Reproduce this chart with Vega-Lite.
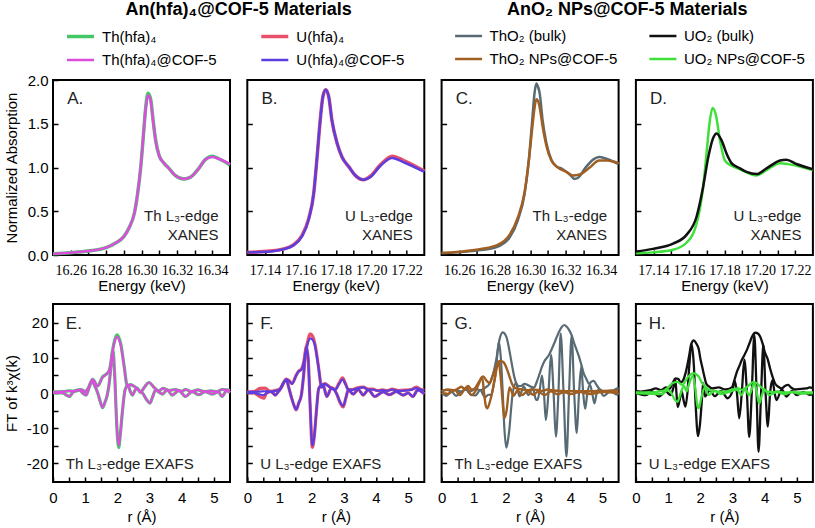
{
"$schema": "https://vega.github.io/schema/vega-lite/v6.json",
"padding": {"left": 3, "top": 0, "right": 0, "bottom": 0},
"config": {
  "view": {"stroke": "black", "strokeWidth": 2},
  "font": "Liberation Sans",
  "axis": {"domain": false, "grid": false, "tickSize": -5, "tickColor": "black", "tickWidth": 1.5, "labelColor": "black", "labelFontSize": 15, "labelFont": "Liberation Sans", "titleFont": "Liberation Sans", "titleFontSize": 15, "titleFontWeight": "normal", "titleColor": "black", "labelOverlap": false, "labelFlush": false},
  "axisX": {"labelPadding": 13, "titlePadding": 4},
  "axisY": {"labelPadding": 10, "titlePadding": 7, "minExtent": 0},
  "legend": {"labelFont": "Liberation Sans", "labelFontSize": 15, "labelColor": "black", "symbolType": "stroke", "symbolSize": 729, "symbolStrokeWidth": 2.5, "rowPadding": -2, "labelOffset": 6, "labelLimit": 300},
  "text": {"font": "Liberation Sans", "color": "#222"}
},
"resolve": {"scale": {"color": "independent", "strokeWidth": "independent"}, "legend": {"color": "independent", "strokeWidth": "independent"}},
"columns": 4,
"bounds": "flush",
"spacing": {"row": 49, "column": 17.3},
"concat": [
{
"title": {"text": "An(hfa)₄@COF-5 Materials", "fontSize": 18, "fontWeight": "bold", "font": "Liberation Sans", "color": "black", "anchor": "end", "align": "center", "frame": "group", "dx": 8.65, "offset": 2},
"width": 177, "height": 175,
"encoding": {
  "x": {"field": "x", "type": "quantitative", "scale": {"domain": [16.25, 16.35], "nice": false, "zero": false}, "axis": {"values": [16.26,16.27,16.28,16.29,16.30,16.31,16.32,16.33,16.34], "labelExpr": "round(datum.value*100)%2==0 ? format(datum.value,'.2f') : ''", "labelFont": "Liberation Sans Narrow", "labelFontSize": 14, "labelPadding": 13, "titlePadding": 1, "title": "Energy (keV)"}},
  "y": {"field": "y", "type": "quantitative", "scale": {"domain": [0, 2], "nice": false, "zero": false}, "axis": {"values": [0,0.5,1,1.5,2], "format": ".1f", "title": "Normalized Absorption", "minExtent": 27, "maxExtent": 27}}
},
"layer": [
{
"data": {"values": [
{"x":16.25,"y":0.015,"s":"Th(hfa)₄"},{"x":16.26,"y":0.027,"s":"Th(hfa)₄"},{"x":16.27,"y":0.046,"s":"Th(hfa)₄"},{"x":16.28,"y":0.084,"s":"Th(hfa)₄"},{"x":16.2856,"y":0.14,"s":"Th(hfa)₄"},{"x":16.29,"y":0.21,"s":"Th(hfa)₄"},{"x":16.2932,"y":0.32,"s":"Th(hfa)₄"},{"x":16.296,"y":0.48,"s":"Th(hfa)₄"},{"x":16.2978,"y":0.70,"s":"Th(hfa)₄"},{"x":16.2996,"y":1.01,"s":"Th(hfa)₄"},{"x":16.301,"y":1.35,"s":"Th(hfa)₄"},{"x":16.3024,"y":1.69,"s":"Th(hfa)₄"},{"x":16.3037,"y":1.85,"s":"Th(hfa)₄"},{"x":16.3052,"y":1.78,"s":"Th(hfa)₄"},{"x":16.3065,"y":1.55,"s":"Th(hfa)₄"},{"x":16.308,"y":1.31,"s":"Th(hfa)₄"},{"x":16.3099,"y":1.14,"s":"Th(hfa)₄"},{"x":16.3127,"y":1.05,"s":"Th(hfa)₄"},{"x":16.3155,"y":0.99,"s":"Th(hfa)₄"},{"x":16.319,"y":0.91,"s":"Th(hfa)₄"},{"x":16.324,"y":0.87,"s":"Th(hfa)₄"},{"x":16.3277,"y":0.89,"s":"Th(hfa)₄"},{"x":16.3324,"y":0.99,"s":"Th(hfa)₄"},{"x":16.336,"y":1.09,"s":"Th(hfa)₄"},{"x":16.34,"y":1.13,"s":"Th(hfa)₄"},{"x":16.3436,"y":1.10,"s":"Th(hfa)₄"},{"x":16.35,"y":1.03,"s":"Th(hfa)₄"},
{"x":16.25,"y":0.015,"s":"Th(hfa)₄@COF-5"},{"x":16.26,"y":0.027,"s":"Th(hfa)₄@COF-5"},{"x":16.27,"y":0.046,"s":"Th(hfa)₄@COF-5"},{"x":16.28,"y":0.084,"s":"Th(hfa)₄@COF-5"},{"x":16.2856,"y":0.14,"s":"Th(hfa)₄@COF-5"},{"x":16.29,"y":0.21,"s":"Th(hfa)₄@COF-5"},{"x":16.2932,"y":0.32,"s":"Th(hfa)₄@COF-5"},{"x":16.296,"y":0.48,"s":"Th(hfa)₄@COF-5"},{"x":16.2978,"y":0.70,"s":"Th(hfa)₄@COF-5"},{"x":16.2996,"y":1.01,"s":"Th(hfa)₄@COF-5"},{"x":16.301,"y":1.35,"s":"Th(hfa)₄@COF-5"},{"x":16.3024,"y":1.68,"s":"Th(hfa)₄@COF-5"},{"x":16.3037,"y":1.83,"s":"Th(hfa)₄@COF-5"},{"x":16.3052,"y":1.76,"s":"Th(hfa)₄@COF-5"},{"x":16.3065,"y":1.54,"s":"Th(hfa)₄@COF-5"},{"x":16.308,"y":1.31,"s":"Th(hfa)₄@COF-5"},{"x":16.3099,"y":1.14,"s":"Th(hfa)₄@COF-5"},{"x":16.3127,"y":1.05,"s":"Th(hfa)₄@COF-5"},{"x":16.3155,"y":0.99,"s":"Th(hfa)₄@COF-5"},{"x":16.319,"y":0.91,"s":"Th(hfa)₄@COF-5"},{"x":16.324,"y":0.87,"s":"Th(hfa)₄@COF-5"},{"x":16.3277,"y":0.89,"s":"Th(hfa)₄@COF-5"},{"x":16.3324,"y":0.99,"s":"Th(hfa)₄@COF-5"},{"x":16.336,"y":1.09,"s":"Th(hfa)₄@COF-5"},{"x":16.34,"y":1.12,"s":"Th(hfa)₄@COF-5"},{"x":16.3436,"y":1.10,"s":"Th(hfa)₄@COF-5"},{"x":16.35,"y":1.04,"s":"Th(hfa)₄@COF-5"}
]},
"mark": {"type": "line", "interpolate": "monotone"},
"encoding": {
  "color": {"field": "s", "type": "nominal", "scale": {"domain": ["Th(hfa)₄", "Th(hfa)₄@COF-5"], "range": ["#44c766", "#dd4ddd"]}, "legend": {"orient": "none", "legendX": 12, "legendY": -59, "direction": "vertical", "title": null}},
  "strokeWidth": {"field": "s", "type": "nominal", "scale": {"domain": ["Th(hfa)₄", "Th(hfa)₄@COF-5"], "range": [3.5, 2.5]}, "legend": null}
}
},
{"data": {"values": [{"x":16.258,"y":1.78,"t":"A."}]}, "mark": {"type": "text", "align": "left", "baseline": "middle", "fontSize": 17}, "encoding": {"text": {"field": "t"}}},
{"data": {"values": [{"x":16.3435,"y":0.45,"t":"Th L₃-edge"},{"x":16.3435,"y":0.23,"t":"XANES"}]}, "mark": {"type": "text", "align": "right", "baseline": "middle", "fontSize": 15}, "encoding": {"text": {"field": "t"}}}
]
},
{
"width": 177, "height": 175,
"encoding": {
  "x": {"field": "x", "type": "quantitative", "scale": {"domain": [17.13, 17.23], "nice": false, "zero": false}, "axis": {"values": [17.14,17.15,17.16,17.17,17.18,17.19,17.20,17.21,17.22], "labelExpr": "round(datum.value*100)%2==0 ? format(datum.value,'.2f') : ''", "labelFont": "Liberation Sans Narrow", "labelFontSize": 14, "labelPadding": 13, "titlePadding": 1, "title": "Energy (keV)"}},
  "y": {"field": "y", "type": "quantitative", "scale": {"domain": [0, 2], "nice": false, "zero": false}, "axis": {"values": [0.5,1,1.5], "labels": false, "title": null}}
},
"layer": [
{
"data": {"values": [
{"x":17.13,"y":0.03,"s":"U(hfa)₄"},{"x":17.143,"y":0.045,"s":"U(hfa)₄"},{"x":17.1505,"y":0.07,"s":"U(hfa)₄"},{"x":17.156,"y":0.115,"s":"U(hfa)₄"},{"x":17.1608,"y":0.22,"s":"U(hfa)₄"},{"x":17.1646,"y":0.41,"s":"U(hfa)₄"},{"x":17.1675,"y":0.70,"s":"U(hfa)₄"},{"x":17.1693,"y":1.09,"s":"U(hfa)₄"},{"x":17.1712,"y":1.54,"s":"U(hfa)₄"},{"x":17.1727,"y":1.81,"s":"U(hfa)₄"},{"x":17.1743,"y":1.89,"s":"U(hfa)₄"},{"x":17.176,"y":1.81,"s":"U(hfa)₄"},{"x":17.1778,"y":1.54,"s":"U(hfa)₄"},{"x":17.1807,"y":1.28,"s":"U(hfa)₄"},{"x":17.1835,"y":1.12,"s":"U(hfa)₄"},{"x":17.1873,"y":1.01,"s":"U(hfa)₄"},{"x":17.191,"y":0.91,"s":"U(hfa)₄"},{"x":17.1957,"y":0.86,"s":"U(hfa)₄"},{"x":17.1995,"y":0.90,"s":"U(hfa)₄"},{"x":17.2052,"y":1.03,"s":"U(hfa)₄"},{"x":17.2118,"y":1.13,"s":"U(hfa)₄"},{"x":17.2184,"y":1.08,"s":"U(hfa)₄"},{"x":17.23,"y":0.96,"s":"U(hfa)₄"},
{"x":17.13,"y":0.03,"s":"U(hfa)₄@COF-5"},{"x":17.143,"y":0.04,"s":"U(hfa)₄@COF-5"},{"x":17.1505,"y":0.065,"s":"U(hfa)₄@COF-5"},{"x":17.156,"y":0.11,"s":"U(hfa)₄@COF-5"},{"x":17.1608,"y":0.21,"s":"U(hfa)₄@COF-5"},{"x":17.1646,"y":0.40,"s":"U(hfa)₄@COF-5"},{"x":17.1675,"y":0.70,"s":"U(hfa)₄@COF-5"},{"x":17.1693,"y":1.09,"s":"U(hfa)₄@COF-5"},{"x":17.1712,"y":1.54,"s":"U(hfa)₄@COF-5"},{"x":17.1727,"y":1.81,"s":"U(hfa)₄@COF-5"},{"x":17.1743,"y":1.89,"s":"U(hfa)₄@COF-5"},{"x":17.176,"y":1.81,"s":"U(hfa)₄@COF-5"},{"x":17.1778,"y":1.54,"s":"U(hfa)₄@COF-5"},{"x":17.1807,"y":1.28,"s":"U(hfa)₄@COF-5"},{"x":17.1835,"y":1.12,"s":"U(hfa)₄@COF-5"},{"x":17.1873,"y":1.01,"s":"U(hfa)₄@COF-5"},{"x":17.191,"y":0.91,"s":"U(hfa)₄@COF-5"},{"x":17.1957,"y":0.86,"s":"U(hfa)₄@COF-5"},{"x":17.1995,"y":0.89,"s":"U(hfa)₄@COF-5"},{"x":17.2052,"y":1.02,"s":"U(hfa)₄@COF-5"},{"x":17.2118,"y":1.11,"s":"U(hfa)₄@COF-5"},{"x":17.2184,"y":1.06,"s":"U(hfa)₄@COF-5"},{"x":17.23,"y":0.95,"s":"U(hfa)₄@COF-5"}
]},
"mark": {"type": "line", "interpolate": "monotone"},
"encoding": {
  "color": {"field": "s", "type": "nominal", "scale": {"domain": ["U(hfa)₄", "U(hfa)₄@COF-5"], "range": ["#e8506a", "#5b3de0"]}, "legend": {"orient": "none", "legendX": 12, "legendY": -59, "direction": "vertical", "title": null}},
  "strokeWidth": {"field": "s", "type": "nominal", "scale": {"domain": ["U(hfa)₄", "U(hfa)₄@COF-5"], "range": [3.5, 2.5]}, "legend": null}
}
},
{"data": {"values": [{"x":17.138,"y":1.78,"t":"B."}]}, "mark": {"type": "text", "align": "left", "baseline": "middle", "fontSize": 17}, "encoding": {"text": {"field": "t"}}},
{"data": {"values": [{"x":17.2235,"y":0.45,"t":"U L₃-edge"},{"x":17.2235,"y":0.23,"t":"XANES"}]}, "mark": {"type": "text", "align": "right", "baseline": "middle", "fontSize": 15}, "encoding": {"text": {"field": "t"}}}
]
},
{
"title": {"text": "AnO₂ NPs@COF-5 Materials", "fontSize": 18, "fontWeight": "bold", "font": "Liberation Sans", "color": "black", "anchor": "end", "align": "center", "frame": "group", "dx": 8.65, "offset": 2},
"width": 177, "height": 175,
"encoding": {
  "x": {"field": "x", "type": "quantitative", "scale": {"domain": [16.25, 16.35], "nice": false, "zero": false}, "axis": {"values": [16.26,16.27,16.28,16.29,16.30,16.31,16.32,16.33,16.34], "labelExpr": "round(datum.value*100)%2==0 ? format(datum.value,'.2f') : ''", "labelFont": "Liberation Sans Narrow", "labelFontSize": 14, "labelPadding": 13, "titlePadding": 1, "title": "Energy (keV)"}},
  "y": {"field": "y", "type": "quantitative", "scale": {"domain": [0, 2], "nice": false, "zero": false}, "axis": {"values": [0.5,1,1.5], "labels": false, "title": null}}
},
"layer": [
{
"data": {"values": [
{"x":16.25,"y":0.02,"s":"ThO₂ (bulk)"},{"x":16.2583,"y":0.03,"s":"ThO₂ (bulk)"},{"x":16.2696,"y":0.05,"s":"ThO₂ (bulk)"},{"x":16.281,"y":0.09,"s":"ThO₂ (bulk)"},{"x":16.2884,"y":0.20,"s":"ThO₂ (bulk)"},{"x":16.2931,"y":0.40,"s":"ThO₂ (bulk)"},{"x":16.2969,"y":0.70,"s":"ThO₂ (bulk)"},{"x":16.2993,"y":1.09,"s":"ThO₂ (bulk)"},{"x":16.3012,"y":1.54,"s":"ThO₂ (bulk)"},{"x":16.3025,"y":1.85,"s":"ThO₂ (bulk)"},{"x":16.3035,"y":1.96,"s":"ThO₂ (bulk)"},{"x":16.3045,"y":1.92,"s":"ThO₂ (bulk)"},{"x":16.3054,"y":1.85,"s":"ThO₂ (bulk)"},{"x":16.307,"y":1.55,"s":"ThO₂ (bulk)"},{"x":16.3092,"y":1.28,"s":"ThO₂ (bulk)"},{"x":16.312,"y":1.09,"s":"ThO₂ (bulk)"},{"x":16.315,"y":1.01,"s":"ThO₂ (bulk)"},{"x":16.3176,"y":0.99,"s":"ThO₂ (bulk)"},{"x":16.3205,"y":0.95,"s":"ThO₂ (bulk)"},{"x":16.3234,"y":0.90,"s":"ThO₂ (bulk)"},{"x":16.325,"y":0.87,"s":"ThO₂ (bulk)"},{"x":16.327,"y":0.88,"s":"ThO₂ (bulk)"},{"x":16.331,"y":0.99,"s":"ThO₂ (bulk)"},{"x":16.3356,"y":1.09,"s":"ThO₂ (bulk)"},{"x":16.339,"y":1.12,"s":"ThO₂ (bulk)"},{"x":16.343,"y":1.10,"s":"ThO₂ (bulk)"},{"x":16.35,"y":1.04,"s":"ThO₂ (bulk)"},
{"x":16.25,"y":0.025,"s":"ThO₂ NPs@COF-5"},{"x":16.2583,"y":0.035,"s":"ThO₂ NPs@COF-5"},{"x":16.2696,"y":0.06,"s":"ThO₂ NPs@COF-5"},{"x":16.281,"y":0.11,"s":"ThO₂ NPs@COF-5"},{"x":16.2884,"y":0.23,"s":"ThO₂ NPs@COF-5"},{"x":16.2931,"y":0.43,"s":"ThO₂ NPs@COF-5"},{"x":16.2969,"y":0.72,"s":"ThO₂ NPs@COF-5"},{"x":16.2993,"y":1.08,"s":"ThO₂ NPs@COF-5"},{"x":16.3012,"y":1.45,"s":"ThO₂ NPs@COF-5"},{"x":16.3025,"y":1.68,"s":"ThO₂ NPs@COF-5"},{"x":16.3035,"y":1.78,"s":"ThO₂ NPs@COF-5"},{"x":16.3045,"y":1.76,"s":"ThO₂ NPs@COF-5"},{"x":16.3054,"y":1.69,"s":"ThO₂ NPs@COF-5"},{"x":16.307,"y":1.48,"s":"ThO₂ NPs@COF-5"},{"x":16.3092,"y":1.25,"s":"ThO₂ NPs@COF-5"},{"x":16.312,"y":1.08,"s":"ThO₂ NPs@COF-5"},{"x":16.315,"y":1.01,"s":"ThO₂ NPs@COF-5"},{"x":16.3205,"y":0.95,"s":"ThO₂ NPs@COF-5"},{"x":16.324,"y":0.91,"s":"ThO₂ NPs@COF-5"},{"x":16.328,"y":0.92,"s":"ThO₂ NPs@COF-5"},{"x":16.3337,"y":1.0,"s":"ThO₂ NPs@COF-5"},{"x":16.339,"y":1.08,"s":"ThO₂ NPs@COF-5"},{"x":16.3436,"y":1.08,"s":"ThO₂ NPs@COF-5"},{"x":16.35,"y":1.05,"s":"ThO₂ NPs@COF-5"}
]},
"mark": {"type": "line", "interpolate": "monotone"},
"encoding": {
  "color": {"field": "s", "type": "nominal", "scale": {"domain": ["ThO₂ (bulk)", "ThO₂ NPs@COF-5"], "range": ["#586a74", "#a05f22"]}, "legend": {"orient": "none", "legendX": 12, "legendY": -59, "direction": "vertical", "title": null}},
  "strokeWidth": {"field": "s", "type": "nominal", "scale": {"domain": ["ThO₂ (bulk)", "ThO₂ NPs@COF-5"], "range": [2.5, 2.5]}, "legend": null}
}
},
{"data": {"values": [{"x":16.258,"y":1.78,"t":"C."}]}, "mark": {"type": "text", "align": "left", "baseline": "middle", "fontSize": 17}, "encoding": {"text": {"field": "t"}}},
{"data": {"values": [{"x":16.3435,"y":0.45,"t":"Th L₃-edge"},{"x":16.3435,"y":0.23,"t":"XANES"}]}, "mark": {"type": "text", "align": "right", "baseline": "middle", "fontSize": 15}, "encoding": {"text": {"field": "t"}}}
]
},
{
"width": 177, "height": 175,
"encoding": {
  "x": {"field": "x", "type": "quantitative", "scale": {"domain": [17.13, 17.23], "nice": false, "zero": false}, "axis": {"values": [17.14,17.15,17.16,17.17,17.18,17.19,17.20,17.21,17.22], "labelExpr": "round(datum.value*100)%2==0 ? format(datum.value,'.2f') : ''", "labelFont": "Liberation Sans Narrow", "labelFontSize": 14, "labelPadding": 13, "titlePadding": 1, "title": "Energy (keV)"}},
  "y": {"field": "y", "type": "quantitative", "scale": {"domain": [0, 2], "nice": false, "zero": false}, "axis": {"values": [0.5,1,1.5], "labels": false, "title": null}}
},
"layer": [
{
"data": {"values": [
{"x":17.13,"y":0.02,"s":"UO₂ NPs@COF-5"},{"x":17.1397,"y":0.03,"s":"UO₂ NPs@COF-5"},{"x":17.151,"y":0.06,"s":"UO₂ NPs@COF-5"},{"x":17.1586,"y":0.14,"s":"UO₂ NPs@COF-5"},{"x":17.1643,"y":0.36,"s":"UO₂ NPs@COF-5"},{"x":17.168,"y":0.78,"s":"UO₂ NPs@COF-5"},{"x":17.1699,"y":1.16,"s":"UO₂ NPs@COF-5"},{"x":17.1718,"y":1.54,"s":"UO₂ NPs@COF-5"},{"x":17.1733,"y":1.68,"s":"UO₂ NPs@COF-5"},{"x":17.1752,"y":1.60,"s":"UO₂ NPs@COF-5"},{"x":17.1775,"y":1.31,"s":"UO₂ NPs@COF-5"},{"x":17.1803,"y":1.08,"s":"UO₂ NPs@COF-5"},{"x":17.184,"y":1.02,"s":"UO₂ NPs@COF-5"},{"x":17.1888,"y":0.98,"s":"UO₂ NPs@COF-5"},{"x":17.1982,"y":0.91,"s":"UO₂ NPs@COF-5"},{"x":17.2038,"y":0.97,"s":"UO₂ NPs@COF-5"},{"x":17.2114,"y":1.05,"s":"UO₂ NPs@COF-5"},{"x":17.2207,"y":1.02,"s":"UO₂ NPs@COF-5"},{"x":17.23,"y":0.97,"s":"UO₂ NPs@COF-5"},
{"x":17.13,"y":0.04,"s":"UO₂ (bulk)"},{"x":17.1397,"y":0.07,"s":"UO₂ (bulk)"},{"x":17.151,"y":0.13,"s":"UO₂ (bulk)"},{"x":17.1586,"y":0.23,"s":"UO₂ (bulk)"},{"x":17.1643,"y":0.44,"s":"UO₂ (bulk)"},{"x":17.168,"y":0.78,"s":"UO₂ (bulk)"},{"x":17.1709,"y":1.12,"s":"UO₂ (bulk)"},{"x":17.1737,"y":1.34,"s":"UO₂ (bulk)"},{"x":17.1756,"y":1.39,"s":"UO₂ (bulk)"},{"x":17.1784,"y":1.31,"s":"UO₂ (bulk)"},{"x":17.1812,"y":1.16,"s":"UO₂ (bulk)"},{"x":17.184,"y":1.05,"s":"UO₂ (bulk)"},{"x":17.1888,"y":0.99,"s":"UO₂ (bulk)"},{"x":17.1925,"y":0.95,"s":"UO₂ (bulk)"},{"x":17.1982,"y":0.925,"s":"UO₂ (bulk)"},{"x":17.2038,"y":0.99,"s":"UO₂ (bulk)"},{"x":17.2114,"y":1.08,"s":"UO₂ (bulk)"},{"x":17.215,"y":1.09,"s":"UO₂ (bulk)"},{"x":17.2207,"y":1.04,"s":"UO₂ (bulk)"},{"x":17.23,"y":0.98,"s":"UO₂ (bulk)"}
]},
"mark": {"type": "line", "interpolate": "monotone"},
"encoding": {
  "color": {"field": "s", "type": "nominal", "scale": {"domain": ["UO₂ (bulk)", "UO₂ NPs@COF-5"], "range": ["#111111", "#3fe03a"]}, "legend": {"orient": "none", "legendX": 12, "legendY": -59, "direction": "vertical", "title": null}},
  "strokeWidth": {"field": "s", "type": "nominal", "scale": {"domain": ["UO₂ (bulk)", "UO₂ NPs@COF-5"], "range": [2.5, 2.5]}, "legend": null}
}
},
{"data": {"values": [{"x":17.138,"y":1.78,"t":"D."}]}, "mark": {"type": "text", "align": "left", "baseline": "middle", "fontSize": 17}, "encoding": {"text": {"field": "t"}}},
{"data": {"values": [{"x":17.2235,"y":0.45,"t":"U L₃-edge"},{"x":17.2235,"y":0.23,"t":"XANES"}]}, "mark": {"type": "text", "align": "right", "baseline": "middle", "fontSize": 15}, "encoding": {"text": {"field": "t"}}}
]
},
{
"width": 177, "height": 178,
"encoding": {
  "x": {"field": "x", "type": "quantitative", "scale": {"domain": [0, 5.5], "nice": false, "zero": false}, "axis": {"values": [0,0.5,1,1.5,2,2.5,3,3.5,4,4.5,5], "labelExpr": "datum.value%1==0 ? ''+datum.value : ''", "title": "r (Å)"}},
  "y": {"field": "y", "type": "quantitative", "scale": {"domain": [-25.4, 25.4], "nice": false, "zero": false}, "axis": {"values": [-20,-15,-10,-5,0,5,10,15,20], "labelExpr": "datum.value%10==0 ? ''+datum.value : ''", "title": "FT of k³χ(k)", "minExtent": 27, "maxExtent": 27}}
},
"layer": [
{
"data": {"values": [
{"x":0,"y":0.3,"s":"a","p":"m"},{"x":0.3,"y":0.4,"s":"a","p":"m"},{"x":0.5,"y":0.6,"s":"a","p":"m"},{"x":0.7,"y":0.5,"s":"a","p":"m"},{"x":0.87,"y":1.0,"s":"a","p":"m"},{"x":1.0,"y":0.4,"s":"a","p":"m"},{"x":1.1,"y":1.5,"s":"a","p":"m"},{"x":1.23,"y":3.9,"s":"a","p":"m"},{"x":1.39,"y":2.0,"s":"a","p":"m"},{"x":1.54,"y":4.6,"s":"a","p":"m"},{"x":1.65,"y":5.3,"s":"a","p":"m"},{"x":1.75,"y":6.5,"s":"a","p":"m"},{"x":1.80,"y":8.8,"s":"a","p":"m"},{"x":1.86,"y":12.6,"s":"a","p":"m"},{"x":1.92,"y":15.2,"s":"a","p":"m"},{"x":1.99,"y":16.6,"s":"a","p":"m"},{"x":2.06,"y":15.5,"s":"a","p":"m"},{"x":2.11,"y":13.8,"s":"a","p":"m"},{"x":2.21,"y":7.7,"s":"a","p":"m"},{"x":2.31,"y":2.0,"s":"a","p":"m"},{"x":2.40,"y":2.4,"s":"a","p":"m"},{"x":2.57,"y":1.6,"s":"a","p":"m"},{"x":2.73,"y":0.4,"s":"a","p":"m"},{"x":2.85,"y":1.8,"s":"a","p":"m"},{"x":2.98,"y":3.0,"s":"a","p":"m"},{"x":3.14,"y":1.6,"s":"a","p":"m"},{"x":3.28,"y":0.6,"s":"a","p":"m"},{"x":3.42,"y":1.3,"s":"a","p":"m"},{"x":3.6,"y":0.7,"s":"a","p":"m"},{"x":3.8,"y":1.0,"s":"a","p":"m"},{"x":4.0,"y":0.5,"s":"a","p":"m"},{"x":4.12,"y":1.0,"s":"a","p":"m"},{"x":4.3,"y":0.4,"s":"a","p":"m"},{"x":4.5,"y":0.9,"s":"a","p":"m"},{"x":4.7,"y":0.4,"s":"a","p":"m"},{"x":4.9,"y":0.6,"s":"a","p":"m"},{"x":5.1,"y":0.4,"s":"a","p":"m"},{"x":5.25,"y":1.0,"s":"a","p":"m"},{"x":5.4,"y":0.9,"s":"a","p":"m"},{"x":5.5,"y":0.7,"s":"a","p":"m"},
{"x":0,"y":0,"s":"a","p":"r"},{"x":0.3,"y":0,"s":"a","p":"r"},{"x":0.42,"y":-0.6,"s":"a","p":"r"},{"x":0.51,"y":-1.0,"s":"a","p":"r"},{"x":0.6,"y":0,"s":"a","p":"r"},{"x":0.67,"y":0.6,"s":"a","p":"r"},{"x":0.82,"y":0.9,"s":"a","p":"r"},{"x":0.92,"y":0,"s":"a","p":"r"},{"x":1.03,"y":-0.6,"s":"a","p":"r"},{"x":1.12,"y":1.5,"s":"a","p":"r"},{"x":1.21,"y":3.4,"s":"a","p":"r"},{"x":1.3,"y":2.0,"s":"a","p":"r"},{"x":1.39,"y":0,"s":"a","p":"r"},{"x":1.47,"y":-2.5,"s":"a","p":"r"},{"x":1.54,"y":-4.2,"s":"a","p":"r"},{"x":1.62,"y":-2.5,"s":"a","p":"r"},{"x":1.68,"y":-0.8,"s":"a","p":"r"},{"x":1.75,"y":3.0,"s":"a","p":"r"},{"x":1.80,"y":7.6,"s":"a","p":"r"},{"x":1.86,"y":12.3,"s":"a","p":"r"},{"x":1.92,"y":4.5,"s":"a","p":"r"},{"x":1.98,"y":-9,"s":"a","p":"r"},{"x":2.04,"y":-15.6,"s":"a","p":"r"},{"x":2.10,"y":-11,"s":"a","p":"r"},{"x":2.16,"y":-5,"s":"a","p":"r"},{"x":2.24,"y":0.9,"s":"a","p":"r"},{"x":2.33,"y":2.2,"s":"a","p":"r"},{"x":2.40,"y":0.5,"s":"a","p":"r"},{"x":2.47,"y":-0.6,"s":"a","p":"r"},{"x":2.55,"y":0.8,"s":"a","p":"r"},{"x":2.62,"y":1.3,"s":"a","p":"r"},{"x":2.70,"y":0.3,"s":"a","p":"r"},{"x":2.78,"y":0,"s":"a","p":"r"},{"x":2.9,"y":-1.8,"s":"a","p":"r"},{"x":3.01,"y":-2.9,"s":"a","p":"r"},{"x":3.1,"y":-1,"s":"a","p":"r"},{"x":3.19,"y":0.9,"s":"a","p":"r"},{"x":3.30,"y":0.2,"s":"a","p":"r"},{"x":3.40,"y":-0.3,"s":"a","p":"r"},{"x":3.55,"y":0.9,"s":"a","p":"r"},{"x":3.70,"y":-0.6,"s":"a","p":"r"},{"x":3.91,"y":0.7,"s":"a","p":"r"},{"x":4.12,"y":-1.0,"s":"a","p":"r"},{"x":4.32,"y":0.4,"s":"a","p":"r"},{"x":4.53,"y":-0.5,"s":"a","p":"r"},{"x":4.73,"y":0.4,"s":"a","p":"r"},{"x":4.94,"y":-0.3,"s":"a","p":"r"},{"x":5.14,"y":0.3,"s":"a","p":"r"},{"x":5.25,"y":-1.0,"s":"a","p":"r"},{"x":5.40,"y":0.7,"s":"a","p":"r"},{"x":5.5,"y":0.1,"s":"a","p":"r"},
{"x":0,"y":0.3,"s":"b","p":"m"},{"x":0.3,"y":0.4,"s":"b","p":"m"},{"x":0.5,"y":0.6,"s":"b","p":"m"},{"x":0.7,"y":0.5,"s":"b","p":"m"},{"x":0.87,"y":1.0,"s":"b","p":"m"},{"x":1.0,"y":0.4,"s":"b","p":"m"},{"x":1.1,"y":1.5,"s":"b","p":"m"},{"x":1.23,"y":3.9,"s":"b","p":"m"},{"x":1.39,"y":2.0,"s":"b","p":"m"},{"x":1.54,"y":4.5,"s":"b","p":"m"},{"x":1.65,"y":5.3,"s":"b","p":"m"},{"x":1.75,"y":6.5,"s":"b","p":"m"},{"x":1.80,"y":8.8,"s":"b","p":"m"},{"x":1.86,"y":12.4,"s":"b","p":"m"},{"x":1.92,"y":14.8,"s":"b","p":"m"},{"x":1.99,"y":16.0,"s":"b","p":"m"},{"x":2.06,"y":15.0,"s":"b","p":"m"},{"x":2.11,"y":13.5,"s":"b","p":"m"},{"x":2.21,"y":7.5,"s":"b","p":"m"},{"x":2.31,"y":2.0,"s":"b","p":"m"},{"x":2.40,"y":2.4,"s":"b","p":"m"},{"x":2.57,"y":1.6,"s":"b","p":"m"},{"x":2.73,"y":0.4,"s":"b","p":"m"},{"x":2.85,"y":1.8,"s":"b","p":"m"},{"x":2.98,"y":3.0,"s":"b","p":"m"},{"x":3.14,"y":1.6,"s":"b","p":"m"},{"x":3.28,"y":0.6,"s":"b","p":"m"},{"x":3.42,"y":1.3,"s":"b","p":"m"},{"x":3.6,"y":0.7,"s":"b","p":"m"},{"x":3.8,"y":1.0,"s":"b","p":"m"},{"x":4.0,"y":0.5,"s":"b","p":"m"},{"x":4.12,"y":1.0,"s":"b","p":"m"},{"x":4.3,"y":0.4,"s":"b","p":"m"},{"x":4.5,"y":0.9,"s":"b","p":"m"},{"x":4.7,"y":0.4,"s":"b","p":"m"},{"x":4.9,"y":0.6,"s":"b","p":"m"},{"x":5.1,"y":0.4,"s":"b","p":"m"},{"x":5.25,"y":1.0,"s":"b","p":"m"},{"x":5.4,"y":0.9,"s":"b","p":"m"},{"x":5.5,"y":0.7,"s":"b","p":"m"},
{"x":0,"y":0,"s":"b","p":"r"},{"x":0.3,"y":0,"s":"b","p":"r"},{"x":0.42,"y":-0.6,"s":"b","p":"r"},{"x":0.51,"y":-1.0,"s":"b","p":"r"},{"x":0.6,"y":0,"s":"b","p":"r"},{"x":0.67,"y":0.6,"s":"b","p":"r"},{"x":0.82,"y":0.9,"s":"b","p":"r"},{"x":0.92,"y":0,"s":"b","p":"r"},{"x":1.03,"y":-0.6,"s":"b","p":"r"},{"x":1.12,"y":1.5,"s":"b","p":"r"},{"x":1.21,"y":3.4,"s":"b","p":"r"},{"x":1.3,"y":2.0,"s":"b","p":"r"},{"x":1.39,"y":0,"s":"b","p":"r"},{"x":1.47,"y":-2.5,"s":"b","p":"r"},{"x":1.54,"y":-4.1,"s":"b","p":"r"},{"x":1.62,"y":-2.5,"s":"b","p":"r"},{"x":1.68,"y":-0.8,"s":"b","p":"r"},{"x":1.75,"y":3.0,"s":"b","p":"r"},{"x":1.80,"y":7.5,"s":"b","p":"r"},{"x":1.86,"y":12.0,"s":"b","p":"r"},{"x":1.92,"y":4.5,"s":"b","p":"r"},{"x":1.98,"y":-9,"s":"b","p":"r"},{"x":2.04,"y":-15.0,"s":"b","p":"r"},{"x":2.10,"y":-11,"s":"b","p":"r"},{"x":2.16,"y":-5,"s":"b","p":"r"},{"x":2.24,"y":0.9,"s":"b","p":"r"},{"x":2.33,"y":2.2,"s":"b","p":"r"},{"x":2.40,"y":0.5,"s":"b","p":"r"},{"x":2.47,"y":-0.6,"s":"b","p":"r"},{"x":2.55,"y":0.8,"s":"b","p":"r"},{"x":2.62,"y":1.3,"s":"b","p":"r"},{"x":2.70,"y":0.3,"s":"b","p":"r"},{"x":2.78,"y":0,"s":"b","p":"r"},{"x":2.9,"y":-1.8,"s":"b","p":"r"},{"x":3.01,"y":-2.9,"s":"b","p":"r"},{"x":3.1,"y":-1,"s":"b","p":"r"},{"x":3.19,"y":0.9,"s":"b","p":"r"},{"x":3.30,"y":0.2,"s":"b","p":"r"},{"x":3.40,"y":-0.3,"s":"b","p":"r"},{"x":3.55,"y":0.9,"s":"b","p":"r"},{"x":3.70,"y":-0.6,"s":"b","p":"r"},{"x":3.91,"y":0.7,"s":"b","p":"r"},{"x":4.12,"y":-1.0,"s":"b","p":"r"},{"x":4.32,"y":0.4,"s":"b","p":"r"},{"x":4.53,"y":-0.5,"s":"b","p":"r"},{"x":4.73,"y":0.4,"s":"b","p":"r"},{"x":4.94,"y":-0.3,"s":"b","p":"r"},{"x":5.14,"y":0.3,"s":"b","p":"r"},{"x":5.25,"y":-1.0,"s":"b","p":"r"},{"x":5.40,"y":0.7,"s":"b","p":"r"},{"x":5.5,"y":0.1,"s":"b","p":"r"}
]},
"mark": {"type": "line", "interpolate": "monotone"},
"encoding": {
  "color": {"field": "s", "type": "nominal", "scale": {"domain": ["a", "b"], "range": ["#44c766", "#dd4ddd"]}, "legend": null},
  "strokeWidth": {"field": "s", "type": "nominal", "scale": {"domain": ["a", "b"], "range": [3.2, 2.2]}, "legend": null},
  "detail": {"field": "p"}
}
},
{"data": {"values": [{"x":0.40,"y":19.7,"t":"E."}]}, "mark": {"type": "text", "align": "left", "baseline": "middle", "fontSize": 17}, "encoding": {"text": {"field": "t"}}},
{"data": {"values": [{"x":0.40,"y":-20.2,"t":"Th L₃-edge EXAFS"}]}, "mark": {"type": "text", "align": "left", "baseline": "middle", "fontSize": 15}, "encoding": {"text": {"field": "t"}}}
]
},
{
"width": 177, "height": 178,
"encoding": {
  "x": {"field": "x", "type": "quantitative", "scale": {"domain": [0, 5.5], "nice": false, "zero": false}, "axis": {"values": [0,0.5,1,1.5,2,2.5,3,3.5,4,4.5,5], "labelExpr": "datum.value%1==0 ? ''+datum.value : ''", "title": "r (Å)"}},
  "y": {"field": "y", "type": "quantitative", "scale": {"domain": [-25.4, 25.4], "nice": false, "zero": false}, "axis": {"values": [-20,-15,-10,-5,0,5,10,15,20], "labels": false, "title": null}}
},
"layer": [
{
"data": {"values": [
{"x":0,"y":0.3,"s":"a","p":"m"},{"x":0.2,"y":0.4,"s":"a","p":"m"},{"x":0.4,"y":1.3,"s":"a","p":"m"},{"x":0.55,"y":1.4,"s":"a","p":"m"},{"x":0.7,"y":0.5,"s":"a","p":"m"},{"x":0.87,"y":0.7,"s":"a","p":"m"},{"x":1.03,"y":1.3,"s":"a","p":"m"},{"x":1.21,"y":4.0,"s":"a","p":"m"},{"x":1.30,"y":3.5,"s":"a","p":"m"},{"x":1.39,"y":2.7,"s":"a","p":"m"},{"x":1.52,"y":5.1,"s":"a","p":"m"},{"x":1.60,"y":6.3,"s":"a","p":"m"},{"x":1.68,"y":6.8,"s":"a","p":"m"},{"x":1.75,"y":8.7,"s":"a","p":"m"},{"x":1.80,"y":11.3,"s":"a","p":"m"},{"x":1.86,"y":14.0,"s":"a","p":"m"},{"x":1.95,"y":16.9,"s":"a","p":"m"},{"x":2.03,"y":16.2,"s":"a","p":"m"},{"x":2.11,"y":13.6,"s":"a","p":"m"},{"x":2.21,"y":7.6,"s":"a","p":"m"},{"x":2.31,"y":1.7,"s":"a","p":"m"},{"x":2.40,"y":2.7,"s":"a","p":"m"},{"x":2.57,"y":1.7,"s":"a","p":"m"},{"x":2.73,"y":1.0,"s":"a","p":"m"},{"x":2.85,"y":2.8,"s":"a","p":"m"},{"x":2.96,"y":4.3,"s":"a","p":"m"},{"x":3.05,"y":2.7,"s":"a","p":"m"},{"x":3.14,"y":1.0,"s":"a","p":"m"},{"x":3.27,"y":1.0,"s":"a","p":"m"},{"x":3.4,"y":1.4,"s":"a","p":"m"},{"x":3.6,"y":1.7,"s":"a","p":"m"},{"x":3.75,"y":1.1,"s":"a","p":"m"},{"x":3.9,"y":1.1,"s":"a","p":"m"},{"x":4.05,"y":0.7,"s":"a","p":"m"},{"x":4.2,"y":0.9,"s":"a","p":"m"},{"x":4.35,"y":0.7,"s":"a","p":"m"},{"x":4.5,"y":1.1,"s":"a","p":"m"},{"x":4.7,"y":0.7,"s":"a","p":"m"},{"x":4.9,"y":0.8,"s":"a","p":"m"},{"x":5.1,"y":1.0,"s":"a","p":"m"},{"x":5.25,"y":1.7,"s":"a","p":"m"},{"x":5.4,"y":1.0,"s":"a","p":"m"},{"x":5.5,"y":0.9,"s":"a","p":"m"},
{"x":0,"y":0,"s":"a","p":"r"},{"x":0.2,"y":0,"s":"a","p":"r"},{"x":0.35,"y":-0.8,"s":"a","p":"r"},{"x":0.51,"y":-1.5,"s":"a","p":"r"},{"x":0.6,"y":0,"s":"a","p":"r"},{"x":0.72,"y":0.4,"s":"a","p":"r"},{"x":0.8,"y":0,"s":"a","p":"r"},{"x":0.87,"y":-0.6,"s":"a","p":"r"},{"x":0.95,"y":0.2,"s":"a","p":"r"},{"x":1.03,"y":1.2,"s":"a","p":"r"},{"x":1.12,"y":2.8,"s":"a","p":"r"},{"x":1.21,"y":3.8,"s":"a","p":"r"},{"x":1.29,"y":1.5,"s":"a","p":"r"},{"x":1.37,"y":-1.2,"s":"a","p":"r"},{"x":1.45,"y":-3.5,"s":"a","p":"r"},{"x":1.52,"y":-4.8,"s":"a","p":"r"},{"x":1.60,"y":-2.8,"s":"a","p":"r"},{"x":1.68,"y":-0.6,"s":"a","p":"r"},{"x":1.75,"y":5.0,"s":"a","p":"r"},{"x":1.83,"y":13.3,"s":"a","p":"r"},{"x":1.89,"y":10,"s":"a","p":"r"},{"x":1.95,"y":-3,"s":"a","p":"r"},{"x":2.02,"y":-15.5,"s":"a","p":"r"},{"x":2.08,"y":-12.5,"s":"a","p":"r"},{"x":2.14,"y":-6,"s":"a","p":"r"},{"x":2.22,"y":1.3,"s":"a","p":"r"},{"x":2.35,"y":2.5,"s":"a","p":"r"},{"x":2.47,"y":-1.0,"s":"a","p":"r"},{"x":2.62,"y":1.5,"s":"a","p":"r"},{"x":2.78,"y":-0.3,"s":"a","p":"r"},{"x":2.88,"y":-2.7,"s":"a","p":"r"},{"x":2.98,"y":-4.0,"s":"a","p":"r"},{"x":3.06,"y":-1.5,"s":"a","p":"r"},{"x":3.14,"y":0.9,"s":"a","p":"r"},{"x":3.29,"y":-0.3,"s":"a","p":"r"},{"x":3.45,"y":1.0,"s":"a","p":"r"},{"x":3.60,"y":-0.6,"s":"a","p":"r"},{"x":3.76,"y":0.9,"s":"a","p":"r"},{"x":3.96,"y":-1.0,"s":"a","p":"r"},{"x":4.22,"y":0.3,"s":"a","p":"r"},{"x":4.42,"y":-0.5,"s":"a","p":"r"},{"x":4.63,"y":0.4,"s":"a","p":"r"},{"x":4.84,"y":-0.6,"s":"a","p":"r"},{"x":5.0,"y":0,"s":"a","p":"r"},{"x":5.14,"y":-1.0,"s":"a","p":"r"},{"x":5.30,"y":0.9,"s":"a","p":"r"},{"x":5.5,"y":-0.3,"s":"a","p":"r"},
{"x":0,"y":0.3,"s":"b","p":"m"},{"x":0.2,"y":0.3,"s":"b","p":"m"},{"x":0.4,"y":0.4,"s":"b","p":"m"},{"x":0.55,"y":0.5,"s":"b","p":"m"},{"x":0.7,"y":0.4,"s":"b","p":"m"},{"x":0.87,"y":0.6,"s":"b","p":"m"},{"x":1.03,"y":1.2,"s":"b","p":"m"},{"x":1.21,"y":3.9,"s":"b","p":"m"},{"x":1.30,"y":3.4,"s":"b","p":"m"},{"x":1.39,"y":2.6,"s":"b","p":"m"},{"x":1.52,"y":5.0,"s":"b","p":"m"},{"x":1.60,"y":6.2,"s":"b","p":"m"},{"x":1.68,"y":6.6,"s":"b","p":"m"},{"x":1.75,"y":8.5,"s":"b","p":"m"},{"x":1.80,"y":11.0,"s":"b","p":"m"},{"x":1.86,"y":13.5,"s":"b","p":"m"},{"x":1.95,"y":15.6,"s":"b","p":"m"},{"x":2.03,"y":15.2,"s":"b","p":"m"},{"x":2.11,"y":13.2,"s":"b","p":"m"},{"x":2.21,"y":7.5,"s":"b","p":"m"},{"x":2.31,"y":1.6,"s":"b","p":"m"},{"x":2.40,"y":2.6,"s":"b","p":"m"},{"x":2.57,"y":1.6,"s":"b","p":"m"},{"x":2.73,"y":0.9,"s":"b","p":"m"},{"x":2.85,"y":2.5,"s":"b","p":"m"},{"x":2.96,"y":3.9,"s":"b","p":"m"},{"x":3.05,"y":2.5,"s":"b","p":"m"},{"x":3.14,"y":0.9,"s":"b","p":"m"},{"x":3.27,"y":0.9,"s":"b","p":"m"},{"x":3.4,"y":1.3,"s":"b","p":"m"},{"x":3.6,"y":1.6,"s":"b","p":"m"},{"x":3.75,"y":1.0,"s":"b","p":"m"},{"x":3.9,"y":1.0,"s":"b","p":"m"},{"x":4.05,"y":0.6,"s":"b","p":"m"},{"x":4.2,"y":0.8,"s":"b","p":"m"},{"x":4.35,"y":0.6,"s":"b","p":"m"},{"x":4.5,"y":1.0,"s":"b","p":"m"},{"x":4.7,"y":0.6,"s":"b","p":"m"},{"x":4.9,"y":0.7,"s":"b","p":"m"},{"x":5.1,"y":0.9,"s":"b","p":"m"},{"x":5.25,"y":1.4,"s":"b","p":"m"},{"x":5.4,"y":0.9,"s":"b","p":"m"},{"x":5.5,"y":0.8,"s":"b","p":"m"},
{"x":0,"y":0,"s":"b","p":"r"},{"x":0.2,"y":0,"s":"b","p":"r"},{"x":0.35,"y":-0.3,"s":"b","p":"r"},{"x":0.51,"y":-0.6,"s":"b","p":"r"},{"x":0.6,"y":0,"s":"b","p":"r"},{"x":0.72,"y":0.4,"s":"b","p":"r"},{"x":0.8,"y":0,"s":"b","p":"r"},{"x":0.87,"y":-0.6,"s":"b","p":"r"},{"x":0.95,"y":0.2,"s":"b","p":"r"},{"x":1.03,"y":1.2,"s":"b","p":"r"},{"x":1.12,"y":2.8,"s":"b","p":"r"},{"x":1.21,"y":3.7,"s":"b","p":"r"},{"x":1.29,"y":1.5,"s":"b","p":"r"},{"x":1.37,"y":-1.2,"s":"b","p":"r"},{"x":1.45,"y":-3.5,"s":"b","p":"r"},{"x":1.52,"y":-4.7,"s":"b","p":"r"},{"x":1.60,"y":-2.8,"s":"b","p":"r"},{"x":1.68,"y":-0.6,"s":"b","p":"r"},{"x":1.75,"y":5.0,"s":"b","p":"r"},{"x":1.83,"y":13.0,"s":"b","p":"r"},{"x":1.89,"y":10,"s":"b","p":"r"},{"x":1.95,"y":-3,"s":"b","p":"r"},{"x":2.02,"y":-15.0,"s":"b","p":"r"},{"x":2.08,"y":-12.5,"s":"b","p":"r"},{"x":2.14,"y":-6,"s":"b","p":"r"},{"x":2.22,"y":1.3,"s":"b","p":"r"},{"x":2.35,"y":2.4,"s":"b","p":"r"},{"x":2.47,"y":-1.0,"s":"b","p":"r"},{"x":2.62,"y":1.5,"s":"b","p":"r"},{"x":2.78,"y":-0.3,"s":"b","p":"r"},{"x":2.88,"y":-2.5,"s":"b","p":"r"},{"x":2.98,"y":-3.7,"s":"b","p":"r"},{"x":3.06,"y":-1.5,"s":"b","p":"r"},{"x":3.14,"y":0.9,"s":"b","p":"r"},{"x":3.29,"y":-0.3,"s":"b","p":"r"},{"x":3.45,"y":1.0,"s":"b","p":"r"},{"x":3.60,"y":-0.6,"s":"b","p":"r"},{"x":3.76,"y":0.9,"s":"b","p":"r"},{"x":3.96,"y":-1.0,"s":"b","p":"r"},{"x":4.22,"y":0.3,"s":"b","p":"r"},{"x":4.42,"y":-0.5,"s":"b","p":"r"},{"x":4.63,"y":0.4,"s":"b","p":"r"},{"x":4.84,"y":-0.6,"s":"b","p":"r"},{"x":5.0,"y":0,"s":"b","p":"r"},{"x":5.14,"y":-1.0,"s":"b","p":"r"},{"x":5.30,"y":0.8,"s":"b","p":"r"},{"x":5.5,"y":-0.3,"s":"b","p":"r"}
]},
"mark": {"type": "line", "interpolate": "monotone"},
"encoding": {
  "color": {"field": "s", "type": "nominal", "scale": {"domain": ["a", "b"], "range": ["#e8506a", "#5b3de0"]}, "legend": null},
  "strokeWidth": {"field": "s", "type": "nominal", "scale": {"domain": ["a", "b"], "range": [3.2, 2.2]}, "legend": null},
  "detail": {"field": "p"}
}
},
{"data": {"values": [{"x":0.40,"y":19.7,"t":"F."}]}, "mark": {"type": "text", "align": "left", "baseline": "middle", "fontSize": 17}, "encoding": {"text": {"field": "t"}}},
{"data": {"values": [{"x":0.40,"y":-20.2,"t":"U L₃-edge EXAFS"}]}, "mark": {"type": "text", "align": "left", "baseline": "middle", "fontSize": 15}, "encoding": {"text": {"field": "t"}}}
]
},
{
"width": 177, "height": 178,
"encoding": {
  "x": {"field": "x", "type": "quantitative", "scale": {"domain": [0, 5.5], "nice": false, "zero": false}, "axis": {"values": [0,0.5,1,1.5,2,2.5,3,3.5,4,4.5,5], "labelExpr": "datum.value%1==0 ? ''+datum.value : ''", "title": "r (Å)"}},
  "y": {"field": "y", "type": "quantitative", "scale": {"domain": [-25.4, 25.4], "nice": false, "zero": false}, "axis": {"values": [-20,-15,-10,-5,0,5,10,15,20], "labels": false, "title": null}}
},
"layer": [
{
"data": {"values": [
{"x":0,"y":0.5,"s":"a","p":"m"},{"x":0.15,"y":0.9,"s":"a","p":"m"},{"x":0.3,"y":0.6,"s":"a","p":"m"},{"x":0.45,"y":0.9,"s":"a","p":"m"},{"x":0.6,"y":0.4,"s":"a","p":"m"},{"x":0.75,"y":1.0,"s":"a","p":"m"},{"x":0.9,"y":0.5,"s":"a","p":"m"},{"x":1.05,"y":1.2,"s":"a","p":"m"},{"x":1.2,"y":0.8,"s":"a","p":"m"},{"x":1.35,"y":1.5,"s":"a","p":"m"},{"x":1.5,"y":2.8,"s":"a","p":"m"},{"x":1.60,"y":5.5,"s":"a","p":"m"},{"x":1.70,"y":9.6,"s":"a","p":"m"},{"x":1.80,"y":15.3,"s":"a","p":"m"},{"x":1.90,"y":17.3,"s":"a","p":"m"},{"x":2.01,"y":16.1,"s":"a","p":"m"},{"x":2.10,"y":12.5,"s":"a","p":"m"},{"x":2.16,"y":9.4,"s":"a","p":"m"},{"x":2.25,"y":5.0,"s":"a","p":"m"},{"x":2.31,"y":3.0,"s":"a","p":"m"},{"x":2.40,"y":2.0,"s":"a","p":"m"},{"x":2.47,"y":2.0,"s":"a","p":"m"},{"x":2.58,"y":2.6,"s":"a","p":"m"},{"x":2.67,"y":2.3,"s":"a","p":"m"},{"x":2.78,"y":1.8,"s":"a","p":"m"},{"x":2.88,"y":1.6,"s":"a","p":"m"},{"x":2.95,"y":3.0,"s":"a","p":"m"},{"x":3.03,"y":5.1,"s":"a","p":"m"},{"x":3.12,"y":7.5,"s":"a","p":"m"},{"x":3.19,"y":9.0,"s":"a","p":"m"},{"x":3.27,"y":10.0,"s":"a","p":"m"},{"x":3.34,"y":10.9,"s":"a","p":"m"},{"x":3.42,"y":12.5,"s":"a","p":"m"},{"x":3.50,"y":14.2,"s":"a","p":"m"},{"x":3.58,"y":16.0,"s":"a","p":"m"},{"x":3.65,"y":17.5,"s":"a","p":"m"},{"x":3.73,"y":18.8,"s":"a","p":"m"},{"x":3.81,"y":19.4,"s":"a","p":"m"},{"x":3.88,"y":19.0,"s":"a","p":"m"},{"x":3.96,"y":18.0,"s":"a","p":"m"},{"x":4.04,"y":16.5,"s":"a","p":"m"},{"x":4.12,"y":14.2,"s":"a","p":"m"},{"x":4.20,"y":12.2,"s":"a","p":"m"},{"x":4.27,"y":10.4,"s":"a","p":"m"},{"x":4.35,"y":7.8,"s":"a","p":"m"},{"x":4.42,"y":5.5,"s":"a","p":"m"},{"x":4.50,"y":4.0,"s":"a","p":"m"},{"x":4.58,"y":2.6,"s":"a","p":"m"},{"x":4.65,"y":3.2,"s":"a","p":"m"},{"x":4.73,"y":3.5,"s":"a","p":"m"},{"x":4.80,"y":2.5,"s":"a","p":"m"},{"x":4.89,"y":1.3,"s":"a","p":"m"},{"x":5.0,"y":0.6,"s":"a","p":"m"},{"x":5.09,"y":0.4,"s":"a","p":"m"},{"x":5.2,"y":0.6,"s":"a","p":"m"},{"x":5.35,"y":0.8,"s":"a","p":"m"},{"x":5.45,"y":1.3,"s":"a","p":"m"},{"x":5.5,"y":1.5,"s":"a","p":"m"},
{"x":0,"y":0,"s":"a","p":"r"},{"x":0.15,"y":-0.8,"s":"a","p":"r"},{"x":0.3,"y":0.5,"s":"a","p":"r"},{"x":0.45,"y":-0.8,"s":"a","p":"r"},{"x":0.6,"y":0.3,"s":"a","p":"r"},{"x":0.75,"y":1.0,"s":"a","p":"r"},{"x":0.9,"y":-0.4,"s":"a","p":"r"},{"x":1.05,"y":-0.7,"s":"a","p":"r"},{"x":1.2,"y":0.8,"s":"a","p":"r"},{"x":1.35,"y":-1.2,"s":"a","p":"r"},{"x":1.45,"y":-0.5,"s":"a","p":"r"},{"x":1.54,"y":-0.6,"s":"a","p":"r"},{"x":1.62,"y":2.5,"s":"a","p":"r"},{"x":1.68,"y":5.6,"s":"a","p":"r"},{"x":1.73,"y":11,"s":"a","p":"r"},{"x":1.78,"y":14.6,"s":"a","p":"r"},{"x":1.84,"y":10,"s":"a","p":"r"},{"x":1.90,"y":0,"s":"a","p":"r"},{"x":1.95,"y":-10,"s":"a","p":"r"},{"x":2.01,"y":-15.6,"s":"a","p":"r"},{"x":2.07,"y":-13,"s":"a","p":"r"},{"x":2.11,"y":-10,"s":"a","p":"r"},{"x":2.16,"y":-4.5,"s":"a","p":"r"},{"x":2.21,"y":0,"s":"a","p":"r"},{"x":2.31,"y":2.8,"s":"a","p":"r"},{"x":2.42,"y":-1.0,"s":"a","p":"r"},{"x":2.55,"y":1.8,"s":"a","p":"r"},{"x":2.70,"y":-0.6,"s":"a","p":"r"},{"x":2.83,"y":1.5,"s":"a","p":"r"},{"x":2.93,"y":-1.8,"s":"a","p":"r"},{"x":2.98,"y":-2.0,"s":"a","p":"r"},{"x":3.05,"y":1.0,"s":"a","p":"r"},{"x":3.12,"y":5.0,"s":"a","p":"r"},{"x":3.18,"y":0,"s":"a","p":"r"},{"x":3.24,"y":-7.7,"s":"a","p":"r"},{"x":3.32,"y":0,"s":"a","p":"r"},{"x":3.40,"y":10.9,"s":"a","p":"r"},{"x":3.48,"y":0,"s":"a","p":"r"},{"x":3.55,"y":-12.5,"s":"a","p":"r"},{"x":3.63,"y":0,"s":"a","p":"r"},{"x":3.70,"y":17.0,"s":"a","p":"r"},{"x":3.79,"y":0,"s":"a","p":"r"},{"x":3.88,"y":-18.2,"s":"a","p":"r"},{"x":3.96,"y":0,"s":"a","p":"r"},{"x":4.04,"y":16.3,"s":"a","p":"r"},{"x":4.12,"y":0,"s":"a","p":"r"},{"x":4.20,"y":-11.4,"s":"a","p":"r"},{"x":4.27,"y":0,"s":"a","p":"r"},{"x":4.34,"y":7.5,"s":"a","p":"r"},{"x":4.40,"y":0,"s":"a","p":"r"},{"x":4.46,"y":-4.5,"s":"a","p":"r"},{"x":4.53,"y":0,"s":"a","p":"r"},{"x":4.61,"y":2.3,"s":"a","p":"r"},{"x":4.68,"y":0,"s":"a","p":"r"},{"x":4.75,"y":-3.0,"s":"a","p":"r"},{"x":4.82,"y":0,"s":"a","p":"r"},{"x":4.89,"y":1.0,"s":"a","p":"r"},{"x":5.04,"y":-0.8,"s":"a","p":"r"},{"x":5.25,"y":0.5,"s":"a","p":"r"},{"x":5.45,"y":-0.5,"s":"a","p":"r"},{"x":5.5,"y":0,"s":"a","p":"r"},
{"x":0,"y":0.5,"s":"b","p":"m"},{"x":0.2,"y":1.0,"s":"b","p":"m"},{"x":0.4,"y":0.8,"s":"b","p":"m"},{"x":0.62,"y":1.8,"s":"b","p":"m"},{"x":0.72,"y":1.0,"s":"b","p":"m"},{"x":0.82,"y":2.0,"s":"b","p":"m"},{"x":0.93,"y":1.0,"s":"b","p":"m"},{"x":1.03,"y":1.3,"s":"b","p":"m"},{"x":1.15,"y":3.0,"s":"b","p":"m"},{"x":1.29,"y":4.7,"s":"b","p":"m"},{"x":1.39,"y":3.6,"s":"b","p":"m"},{"x":1.49,"y":2.8,"s":"b","p":"m"},{"x":1.57,"y":4.5,"s":"b","p":"m"},{"x":1.65,"y":6.2,"s":"b","p":"m"},{"x":1.72,"y":8.0,"s":"b","p":"m"},{"x":1.80,"y":9.1,"s":"b","p":"m"},{"x":1.88,"y":9.0,"s":"b","p":"m"},{"x":1.95,"y":8.5,"s":"b","p":"m"},{"x":2.03,"y":6.8,"s":"b","p":"m"},{"x":2.11,"y":4.7,"s":"b","p":"m"},{"x":2.18,"y":2.8,"s":"b","p":"m"},{"x":2.26,"y":1.6,"s":"b","p":"m"},{"x":2.4,"y":1.2,"s":"b","p":"m"},{"x":2.5,"y":1.0,"s":"b","p":"m"},{"x":2.67,"y":0.8,"s":"b","p":"m"},{"x":2.8,"y":1.0,"s":"b","p":"m"},{"x":2.98,"y":0.9,"s":"b","p":"m"},{"x":3.15,"y":0.6,"s":"b","p":"m"},{"x":3.29,"y":1.0,"s":"b","p":"m"},{"x":3.5,"y":0.7,"s":"b","p":"m"},{"x":3.7,"y":0.6,"s":"b","p":"m"},{"x":3.9,"y":0.5,"s":"b","p":"m"},{"x":4.1,"y":0.6,"s":"b","p":"m"},{"x":4.3,"y":0.5,"s":"b","p":"m"},{"x":4.6,"y":0.5,"s":"b","p":"m"},{"x":5.0,"y":0.6,"s":"b","p":"m"},{"x":5.5,"y":0.7,"s":"b","p":"m"},
{"x":0,"y":0,"s":"b","p":"r"},{"x":0.2,"y":-0.3,"s":"b","p":"r"},{"x":0.41,"y":0.9,"s":"b","p":"r"},{"x":0.57,"y":-0.6,"s":"b","p":"r"},{"x":0.77,"y":1.6,"s":"b","p":"r"},{"x":0.93,"y":-0.6,"s":"b","p":"r"},{"x":1.05,"y":0.5,"s":"b","p":"r"},{"x":1.15,"y":2.5,"s":"b","p":"r"},{"x":1.26,"y":4.5,"s":"b","p":"r"},{"x":1.32,"y":0,"s":"b","p":"r"},{"x":1.37,"y":-3.5,"s":"b","p":"r"},{"x":1.42,"y":-4.4,"s":"b","p":"r"},{"x":1.50,"y":-2.5,"s":"b","p":"r"},{"x":1.58,"y":0.5,"s":"b","p":"r"},{"x":1.68,"y":5.5,"s":"b","p":"r"},{"x":1.77,"y":9.0,"s":"b","p":"r"},{"x":1.84,"y":4,"s":"b","p":"r"},{"x":1.90,"y":-3,"s":"b","p":"r"},{"x":1.95,"y":-7.2,"s":"b","p":"r"},{"x":2.02,"y":-5,"s":"b","p":"r"},{"x":2.11,"y":1.6,"s":"b","p":"r"},{"x":2.24,"y":-0.8,"s":"b","p":"r"},{"x":2.36,"y":0.8,"s":"b","p":"r"},{"x":2.50,"y":-0.6,"s":"b","p":"r"},{"x":2.67,"y":0.5,"s":"b","p":"r"},{"x":2.85,"y":-0.5,"s":"b","p":"r"},{"x":3.0,"y":0.4,"s":"b","p":"r"},{"x":3.2,"y":-0.6,"s":"b","p":"r"},{"x":3.4,"y":0.5,"s":"b","p":"r"},{"x":3.6,"y":-0.4,"s":"b","p":"r"},{"x":3.8,"y":0.3,"s":"b","p":"r"},{"x":4.0,"y":-0.3,"s":"b","p":"r"},{"x":4.3,"y":0.3,"s":"b","p":"r"},{"x":4.6,"y":-0.3,"s":"b","p":"r"},{"x":5.0,"y":0.3,"s":"b","p":"r"},{"x":5.5,"y":0,"s":"b","p":"r"}
]},
"mark": {"type": "line", "interpolate": "monotone"},
"encoding": {
  "color": {"field": "s", "type": "nominal", "scale": {"domain": ["a", "b"], "range": ["#586a74", "#a05f22"]}, "legend": null},
  "strokeWidth": {"field": "s", "type": "nominal", "scale": {"domain": ["a", "b"], "range": [2.2, 2.4]}, "legend": null},
  "detail": {"field": "p"}
}
},
{"data": {"values": [{"x":0.40,"y":19.7,"t":"G."}]}, "mark": {"type": "text", "align": "left", "baseline": "middle", "fontSize": 17}, "encoding": {"text": {"field": "t"}}},
{"data": {"values": [{"x":0.40,"y":-20.2,"t":"Th L₃-edge EXAFS"}]}, "mark": {"type": "text", "align": "left", "baseline": "middle", "fontSize": 15}, "encoding": {"text": {"field": "t"}}}
]
},
{
"width": 177, "height": 178,
"encoding": {
  "x": {"field": "x", "type": "quantitative", "scale": {"domain": [0, 5.5], "nice": false, "zero": false}, "axis": {"values": [0,0.5,1,1.5,2,2.5,3,3.5,4,4.5,5], "labelExpr": "datum.value%1==0 ? ''+datum.value : ''", "title": "r (Å)"}},
  "y": {"field": "y", "type": "quantitative", "scale": {"domain": [-25.4, 25.4], "nice": false, "zero": false}, "axis": {"values": [-20,-15,-10,-5,0,5,10,15,20], "labels": false, "title": null}}
},
"layer": [
{
"data": {"values": [
{"x":0,"y":0.5,"s":"a","p":"m"},{"x":0.15,"y":0.4,"s":"a","p":"m"},{"x":0.31,"y":0.6,"s":"a","p":"m"},{"x":0.45,"y":0.8,"s":"a","p":"m"},{"x":0.62,"y":1.3,"s":"a","p":"m"},{"x":0.78,"y":0.8,"s":"a","p":"m"},{"x":0.93,"y":1.6,"s":"a","p":"m"},{"x":1.05,"y":1.2,"s":"a","p":"m"},{"x":1.15,"y":3.0,"s":"a","p":"m"},{"x":1.23,"y":4.2,"s":"a","p":"m"},{"x":1.32,"y":4.0,"s":"a","p":"m"},{"x":1.39,"y":3.0,"s":"a","p":"m"},{"x":1.46,"y":3.5,"s":"a","p":"m"},{"x":1.54,"y":5.6,"s":"a","p":"m"},{"x":1.60,"y":8.0,"s":"a","p":"m"},{"x":1.65,"y":10.4,"s":"a","p":"m"},{"x":1.72,"y":14.0,"s":"a","p":"m"},{"x":1.80,"y":15.0,"s":"a","p":"m"},{"x":1.87,"y":14.2,"s":"a","p":"m"},{"x":1.95,"y":12.6,"s":"a","p":"m"},{"x":2.01,"y":9.5,"s":"a","p":"m"},{"x":2.06,"y":7.5,"s":"a","p":"m"},{"x":2.12,"y":5.0,"s":"a","p":"m"},{"x":2.18,"y":2.8,"s":"a","p":"m"},{"x":2.28,"y":1.8,"s":"a","p":"m"},{"x":2.37,"y":1.3,"s":"a","p":"m"},{"x":2.57,"y":1.6,"s":"a","p":"m"},{"x":2.78,"y":1.0,"s":"a","p":"m"},{"x":2.98,"y":1.6,"s":"a","p":"m"},{"x":3.07,"y":4.0,"s":"a","p":"m"},{"x":3.14,"y":6.1,"s":"a","p":"m"},{"x":3.21,"y":7.6,"s":"a","p":"m"},{"x":3.29,"y":9.4,"s":"a","p":"m"},{"x":3.37,"y":10.8,"s":"a","p":"m"},{"x":3.45,"y":12.3,"s":"a","p":"m"},{"x":3.53,"y":14.2,"s":"a","p":"m"},{"x":3.60,"y":15.9,"s":"a","p":"m"},{"x":3.66,"y":16.9,"s":"a","p":"m"},{"x":3.72,"y":17.2,"s":"a","p":"m"},{"x":3.79,"y":17.0,"s":"a","p":"m"},{"x":3.86,"y":16.1,"s":"a","p":"m"},{"x":3.94,"y":14.0,"s":"a","p":"m"},{"x":4.01,"y":11.5,"s":"a","p":"m"},{"x":4.09,"y":9.8,"s":"a","p":"m"},{"x":4.17,"y":7.0,"s":"a","p":"m"},{"x":4.24,"y":4.8,"s":"a","p":"m"},{"x":4.32,"y":2.8,"s":"a","p":"m"},{"x":4.42,"y":1.8,"s":"a","p":"m"},{"x":4.53,"y":1.3,"s":"a","p":"m"},{"x":4.63,"y":2.0,"s":"a","p":"m"},{"x":4.73,"y":2.3,"s":"a","p":"m"},{"x":4.83,"y":1.5,"s":"a","p":"m"},{"x":4.94,"y":1.0,"s":"a","p":"m"},{"x":5.14,"y":1.2,"s":"a","p":"m"},{"x":5.30,"y":1.3,"s":"a","p":"m"},{"x":5.40,"y":1.6,"s":"a","p":"m"},{"x":5.5,"y":1.4,"s":"a","p":"m"},
{"x":0,"y":0,"s":"a","p":"r"},{"x":0.2,"y":-0.5,"s":"a","p":"r"},{"x":0.31,"y":-0.6,"s":"a","p":"r"},{"x":0.51,"y":0.4,"s":"a","p":"r"},{"x":0.72,"y":-1.0,"s":"a","p":"r"},{"x":0.93,"y":0.4,"s":"a","p":"r"},{"x":1.08,"y":-0.6,"s":"a","p":"r"},{"x":1.18,"y":2.0,"s":"a","p":"r"},{"x":1.23,"y":3.5,"s":"a","p":"r"},{"x":1.26,"y":0,"s":"a","p":"r"},{"x":1.30,"y":-4.0,"s":"a","p":"r"},{"x":1.36,"y":-2,"s":"a","p":"r"},{"x":1.42,"y":0.5,"s":"a","p":"r"},{"x":1.48,"y":-2,"s":"a","p":"r"},{"x":1.54,"y":-3.9,"s":"a","p":"r"},{"x":1.60,"y":0,"s":"a","p":"r"},{"x":1.66,"y":8,"s":"a","p":"r"},{"x":1.73,"y":14.0,"s":"a","p":"r"},{"x":1.80,"y":8,"s":"a","p":"r"},{"x":1.86,"y":-4,"s":"a","p":"r"},{"x":1.93,"y":-12.3,"s":"a","p":"r"},{"x":1.99,"y":-9,"s":"a","p":"r"},{"x":2.05,"y":-2,"s":"a","p":"r"},{"x":2.09,"y":2.8,"s":"a","p":"r"},{"x":2.15,"y":-1.0,"s":"a","p":"r"},{"x":2.30,"y":0.8,"s":"a","p":"r"},{"x":2.45,"y":-0.9,"s":"a","p":"r"},{"x":2.65,"y":0.6,"s":"a","p":"r"},{"x":2.85,"y":-1.5,"s":"a","p":"r"},{"x":3.0,"y":0.5,"s":"a","p":"r"},{"x":3.07,"y":3.5,"s":"a","p":"r"},{"x":3.14,"y":0,"s":"a","p":"r"},{"x":3.21,"y":-7.2,"s":"a","p":"r"},{"x":3.29,"y":0,"s":"a","p":"r"},{"x":3.37,"y":9.5,"s":"a","p":"r"},{"x":3.45,"y":0,"s":"a","p":"r"},{"x":3.52,"y":-12.5,"s":"a","p":"r"},{"x":3.60,"y":0,"s":"a","p":"r"},{"x":3.68,"y":16.6,"s":"a","p":"r"},{"x":3.75,"y":0,"s":"a","p":"r"},{"x":3.81,"y":-16.8,"s":"a","p":"r"},{"x":3.89,"y":0,"s":"a","p":"r"},{"x":3.96,"y":13.7,"s":"a","p":"r"},{"x":4.03,"y":0,"s":"a","p":"r"},{"x":4.10,"y":-9.6,"s":"a","p":"r"},{"x":4.17,"y":0,"s":"a","p":"r"},{"x":4.24,"y":3.7,"s":"a","p":"r"},{"x":4.31,"y":0,"s":"a","p":"r"},{"x":4.37,"y":-2.0,"s":"a","p":"r"},{"x":4.53,"y":1.0,"s":"a","p":"r"},{"x":4.68,"y":-1.0,"s":"a","p":"r"},{"x":4.85,"y":0.6,"s":"a","p":"r"},{"x":5.0,"y":-0.6,"s":"a","p":"r"},{"x":5.2,"y":0.3,"s":"a","p":"r"},{"x":5.4,"y":-0.5,"s":"a","p":"r"},{"x":5.5,"y":-0.4,"s":"a","p":"r"},
{"x":0,"y":0.2,"s":"b","p":"m"},{"x":0.5,"y":0.2,"s":"b","p":"m"},{"x":0.8,"y":0.5,"s":"b","p":"m"},{"x":0.93,"y":1.0,"s":"b","p":"m"},{"x":1.03,"y":1.8,"s":"b","p":"m"},{"x":1.13,"y":2.8,"s":"b","p":"m"},{"x":1.29,"y":3.2,"s":"b","p":"m"},{"x":1.44,"y":2.3,"s":"b","p":"m"},{"x":1.59,"y":4.2,"s":"b","p":"m"},{"x":1.70,"y":5.3,"s":"b","p":"m"},{"x":1.80,"y":5.6,"s":"b","p":"m"},{"x":1.88,"y":5.3,"s":"b","p":"m"},{"x":1.95,"y":4.7,"s":"b","p":"m"},{"x":2.05,"y":3.0,"s":"b","p":"m"},{"x":2.11,"y":2.3,"s":"b","p":"m"},{"x":2.26,"y":1.0,"s":"b","p":"m"},{"x":2.5,"y":0.4,"s":"b","p":"m"},{"x":2.78,"y":0.4,"s":"b","p":"m"},{"x":2.98,"y":1.0,"s":"b","p":"m"},{"x":3.19,"y":1.3,"s":"b","p":"m"},{"x":3.29,"y":0.9,"s":"b","p":"m"},{"x":3.42,"y":1.5,"s":"b","p":"m"},{"x":3.55,"y":2.5,"s":"b","p":"m"},{"x":3.65,"y":3.2,"s":"b","p":"m"},{"x":3.75,"y":2.8,"s":"b","p":"m"},{"x":3.81,"y":2.3,"s":"b","p":"m"},{"x":3.95,"y":1.2,"s":"b","p":"m"},{"x":4.1,"y":0.4,"s":"b","p":"m"},{"x":4.4,"y":0.2,"s":"b","p":"m"},{"x":4.8,"y":0.2,"s":"b","p":"m"},{"x":5.5,"y":0.2,"s":"b","p":"m"},
{"x":0,"y":0,"s":"b","p":"r"},{"x":0.8,"y":-0.3,"s":"b","p":"r"},{"x":1.0,"y":0.8,"s":"b","p":"r"},{"x":1.1,"y":0,"s":"b","p":"r"},{"x":1.20,"y":-1.8,"s":"b","p":"r"},{"x":1.29,"y":-2.5,"s":"b","p":"r"},{"x":1.38,"y":-0.5,"s":"b","p":"r"},{"x":1.49,"y":2.0,"s":"b","p":"r"},{"x":1.58,"y":0.5,"s":"b","p":"r"},{"x":1.65,"y":2.5,"s":"b","p":"r"},{"x":1.77,"y":4.9,"s":"b","p":"r"},{"x":1.85,"y":1.0,"s":"b","p":"r"},{"x":1.90,"y":-3,"s":"b","p":"r"},{"x":1.95,"y":-4.4,"s":"b","p":"r"},{"x":2.03,"y":-1.5,"s":"b","p":"r"},{"x":2.14,"y":1.6,"s":"b","p":"r"},{"x":2.26,"y":-0.6,"s":"b","p":"r"},{"x":2.45,"y":0.7,"s":"b","p":"r"},{"x":2.65,"y":-0.3,"s":"b","p":"r"},{"x":2.90,"y":0.3,"s":"b","p":"r"},{"x":3.14,"y":1.0,"s":"b","p":"r"},{"x":3.27,"y":-0.6,"s":"b","p":"r"},{"x":3.40,"y":1.2,"s":"b","p":"r"},{"x":3.52,"y":-0.6,"s":"b","p":"r"},{"x":3.68,"y":2.8,"s":"b","p":"r"},{"x":3.76,"y":0,"s":"b","p":"r"},{"x":3.83,"y":-3.0,"s":"b","p":"r"},{"x":3.92,"y":-0.5,"s":"b","p":"r"},{"x":3.99,"y":1.0,"s":"b","p":"r"},{"x":4.15,"y":-0.6,"s":"b","p":"r"},{"x":4.40,"y":0.5,"s":"b","p":"r"},{"x":4.60,"y":-0.4,"s":"b","p":"r"},{"x":4.85,"y":0.3,"s":"b","p":"r"},{"x":5.1,"y":-0.2,"s":"b","p":"r"},{"x":5.5,"y":0,"s":"b","p":"r"}
]},
"mark": {"type": "line", "interpolate": "monotone"},
"encoding": {
  "color": {"field": "s", "type": "nominal", "scale": {"domain": ["a", "b"], "range": ["#111111", "#3fe03a"]}, "legend": null},
  "strokeWidth": {"field": "s", "type": "nominal", "scale": {"domain": ["a", "b"], "range": [2.3, 2.3]}, "legend": null},
  "detail": {"field": "p"}
}
},
{"data": {"values": [{"x":0.40,"y":19.7,"t":"H."}]}, "mark": {"type": "text", "align": "left", "baseline": "middle", "fontSize": 17}, "encoding": {"text": {"field": "t"}}},
{"data": {"values": [{"x":0.40,"y":-20.2,"t":"U L₃-edge EXAFS"}]}, "mark": {"type": "text", "align": "left", "baseline": "middle", "fontSize": 15}, "encoding": {"text": {"field": "t"}}}
]
}
]
}
